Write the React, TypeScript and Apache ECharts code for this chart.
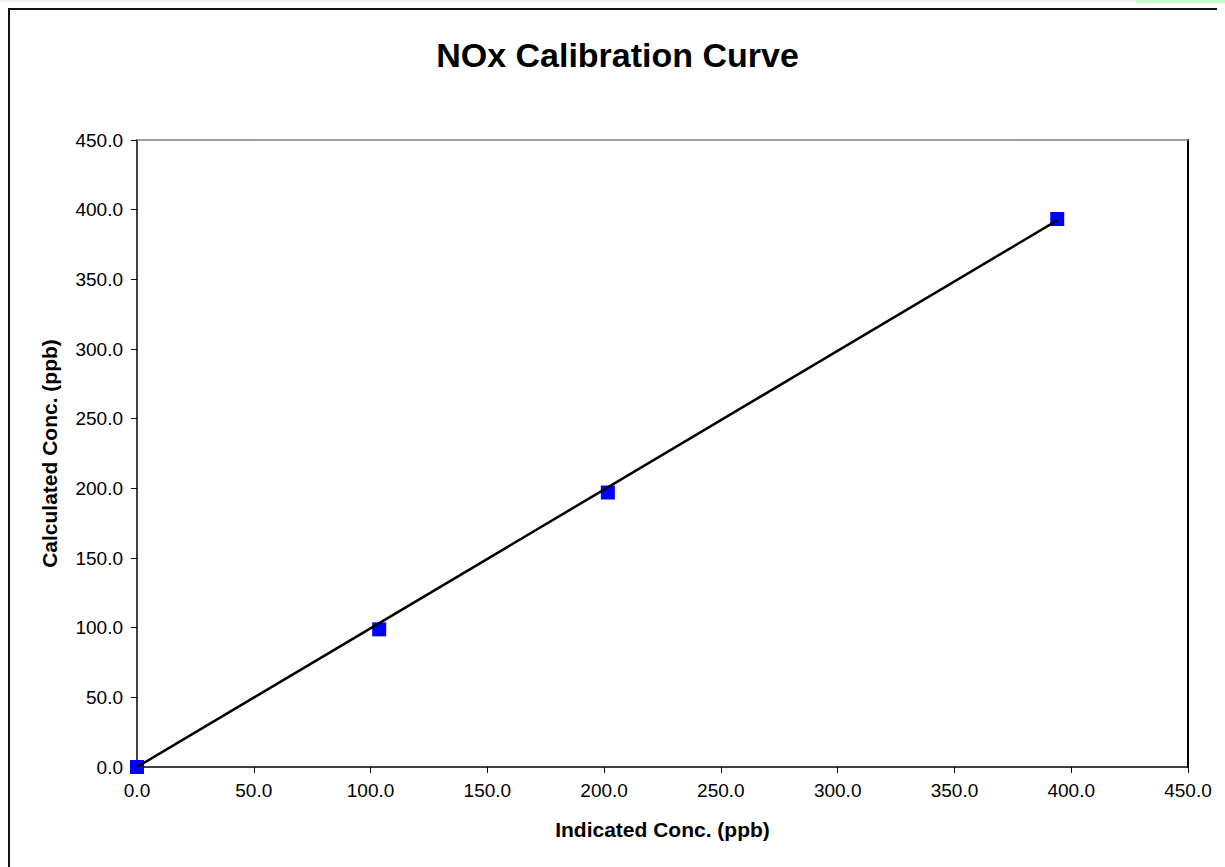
import React, { useEffect, useRef } from "react";
import * as echarts from "echarts";

const titleText = "NOx Calibration Curve";
const xName = "Indicated Conc. (ppb)";
const yName = "Calculated Conc. (ppb)";
const indicated = [0.0, 103.7, 201.6, 394.0];
const calculated = [0.0, 98.8, 197.0, 393.3];
const trendX = [0.0, 394.0];
const trendY = [0.0, 392.3];
const axisMin = 0;
const axisMax = 450;
const axisStep = 50;

const FONT = "'Liberation Sans', Arial, sans-serif";

export default function App() {
  const ref = useRef<HTMLDivElement>(null);
  useEffect(() => {
    if (!ref.current) return;
    const chart = echarts.init(ref.current, undefined, { renderer: "svg" });
    const points = indicated.map((x, i) => [x, calculated[i]]);
    const trend = trendX.map((x, i) => [x, trendY[i]]);
    const fmt = (v: number) => v.toFixed(1);
    chart.setOption({
      animation: false,
      backgroundColor: "#ffffff",
      title: {
        text: titleText,
        left: "center",
        top: 23,
        textStyle: { fontFamily: FONT, fontSize: 34, fontWeight: "bold", color: "#000" },
      },
      grid: { left: 127, top: 130, width: 1051, height: 627, containLabel: false },
      xAxis: [
        {
          type: "value",
          min: axisMin,
          max: axisMax,
          interval: axisStep,
          name: xName,
          nameLocation: "middle",
          nameGap: 52,
          nameTextStyle: { fontFamily: FONT, fontSize: 21, fontWeight: "bold", color: "#000" },
          axisLine: { show: true, onZero: false, lineStyle: { color: "#000", width: 1.5 } },
          axisTick: { show: true, inside: false, length: 6, lineStyle: { color: "#000", width: 1 } },
          axisLabel: { formatter: fmt, fontFamily: FONT, fontSize: 19, color: "#000", margin: 14 },
          splitLine: { show: false },
        },
        {
          type: "value",
          position: "top",
          min: axisMin,
          max: axisMax,
          axisLine: { show: true, onZero: false, lineStyle: { color: "#808080", width: 1.5 } },
          axisTick: { show: false },
          axisLabel: { show: false },
          splitLine: { show: false },
        },
      ],
      yAxis: [
        {
          type: "value",
          min: axisMin,
          max: axisMax,
          interval: axisStep,
          name: yName,
          nameLocation: "middle",
          nameGap: 77,
          nameTextStyle: { fontFamily: FONT, fontSize: 21, fontWeight: "bold", color: "#000" },
          axisLine: { show: true, onZero: false, lineStyle: { color: "#000", width: 1.5 } },
          axisTick: { show: true, inside: false, length: 6, lineStyle: { color: "#000", width: 1 } },
          axisLabel: { formatter: fmt, fontFamily: FONT, fontSize: 19, color: "#000", margin: 14 },
          splitLine: { show: false },
        },
        {
          type: "value",
          position: "right",
          min: axisMin,
          max: axisMax,
          axisLine: { show: true, onZero: false, lineStyle: { color: "#000", width: 2 } },
          axisTick: { show: false },
          axisLabel: { show: false },
          splitLine: { show: false },
        },
      ],
      series: [
        {
          type: "scatter",
          data: points,
          symbol: "rect",
          symbolSize: 14,
          itemStyle: { color: "#0000ff", opacity: 1, borderWidth: 0 },
          z: 2,
        },
        {
          type: "line",
          data: trend,
          showSymbol: false,
          symbol: "none",
          lineStyle: { color: "#000", width: 2.5 },
          z: 3,
        },
      ],
    });
    return () => chart.dispose();
  }, []);

  return (
    <>
      <div style={{ position: "absolute", left: 0, top: 0, width: 1225, height: 2, background: "#f0f0f0" }} />
      <div style={{ position: "absolute", left: 1136, top: 0, width: 89, height: 3, background: "#c6f7c6" }} />
      <div
        style={{
          width: 1217,
          height: 859,
          boxSizing: "border-box",
          borderLeft: "2px solid #111",
          borderTop: "2px solid #111",
          background: "#fff",
          overflow: "hidden",
        }}
      >
        <div ref={ref} style={{ width: 1215, height: 857 }} />
      </div>
    </>
  );
}
